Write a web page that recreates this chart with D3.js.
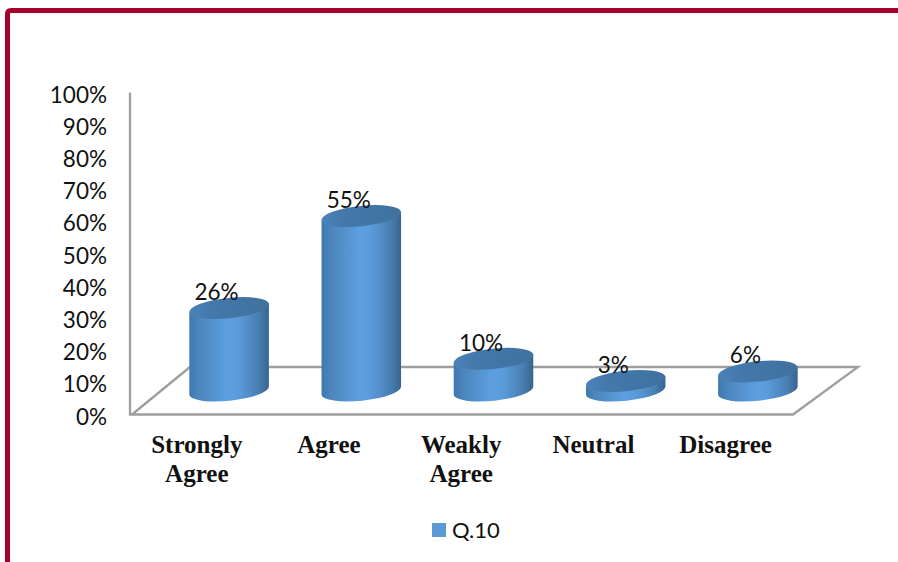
<!DOCTYPE html>
<html>
<head>
<meta charset="utf-8">
<script src="https://cdn.jsdelivr.net/npm/d3@7"></script>
<style>html,body{margin:0;padding:0;background:#fff}svg{display:block}</style>
</head>
<body>
<svg id="c" width="898" height="562"></svg>
<script>
const categories = [["Strongly","Agree"],["Agree"],["Weakly","Agree"],["Neutral"],["Disagree"]];
const values = [26,55,10,3,6];
const yTicks = [0,10,20,30,40,50,60,70,80,90,100];
const seriesName = "Q.10";

const svg = d3.select("#c");
const W = 898, H = 562;
const y = d3.scaleLinear().domain([0,100]).range([414.5,92.5]);
const x = d3.scaleBand().domain(d3.range(values.length)).range([130,791]);
const depthX = 33, depthY = -24;         // cylinder position in the 3D floor
const rx = 40, ry = 10.2, tilt = -6;     // ellipse of the cylinder ends
const t = tilt*Math.PI/180, tx = rx*Math.cos(t), ty = rx*Math.sin(t);

const defs = svg.append("defs");
const sideGrad = defs.append("linearGradient").attr("id","side");
[[0,"#3f78b0"],[.12,"#4c86bd"],[.48,"#5c9fe0"],[.62,"#5a9bdb"],[.86,"#4a80b4"],[1,"#37648f"]]
  .forEach(s=>sideGrad.append("stop").attr("offset",s[0]).attr("stop-color",s[1]));
const topGrad = defs.append("linearGradient").attr("id","topG");
[[0,"#4c84ba"],[.25,"#4478ab"],[1,"#3f729f"]]
  .forEach(s=>topGrad.append("stop").attr("offset",s[0]).attr("stop-color",s[1]));
defs.append("filter").attr("id","soft").append("feGaussianBlur").attr("stdDeviation",.55);

// frame
svg.append("path").attr("fill","none").attr("stroke","#a5002b").attr("stroke-width",5)
  .attr("d",`M7.5 ${H} V14 Q7.5 10.5 11 10.5 H${W}`);

// axes and floor
const grey = "#9e9e9e";
const g = svg.append("g").attr("filter","url(#soft)");
g.append("path").attr("fill","none").attr("stroke",grey).attr("stroke-width",2.3)
  .attr("d",`M130 ${y(100)} V${y(0)} H793 L858 367 H190 L132 ${y(0)}`);

// cylinders
const cyl = g.selectAll("g.cyl").data(values).join("g").attr("class","cyl");
const cx = (d,i)=>x(i)+x.bandwidth()/2+depthX;
const base = y(0)+depthY;
const h = d=>(y(0)-y(d))*0.985;
cyl.append("path").attr("fill","url(#side)")
  .attr("d",(d,i)=>{
    const c=cx(d,i), b=base, tp=base-h(d);
    return `M${c-tx} ${tp-ty} L${c-tx} ${b-ty} A${rx} ${ry} ${tilt} 0 0 ${c+tx} ${b+ty} L${c+tx} ${tp+ty} Z`;
  });
cyl.append("ellipse").attr("fill","url(#topG)")
  .attr("cx",cx).attr("cy",d=>base-h(d)).attr("rx",rx).attr("ry",ry)
  .attr("transform",(d,i)=>`rotate(${tilt} ${cx(d,i)} ${base-h(d)})`);

// data labels
const sans = "Lato, 'Open Sans', sans-serif";
svg.selectAll("text.v").data(values).join("text").attr("class","v")
  .attr("x",(d,i)=>cx(d,i)-12.5).attr("y",d=>base-h(d)-8)
  .attr("text-anchor","middle").attr("font-family",sans).attr("font-size",22.5).attr("fill","#111")
  .text(d=>d+"%");

// y tick labels
svg.selectAll("text.t").data(yTicks).join("text").attr("class","t")
  .attr("x",107).attr("y",d=>y(d)+10)
  .attr("text-anchor","end").attr("font-family",sans).attr("font-size",22.5).attr("fill","#111")
  .text(d=>d+"%");

// category labels
const lab = svg.selectAll("text.c").data(categories).join("text").attr("class","c")
  .attr("text-anchor","middle").attr("font-family","'Liberation Serif', serif")
  .attr("font-weight","bold").attr("font-size",25).attr("fill","#111");
lab.selectAll("tspan").data((d,i)=>d.map((s,j)=>({s,j,i}))).join("tspan")
  .attr("x",d=>x(d.i)+x.bandwidth()/2+0.7).attr("y",d=>453+d.j*29).text(d=>d.s);

// legend
svg.append("rect").attr("x",432).attr("y",523).attr("width",14).attr("height",14).attr("fill","#5b9bd5");
svg.append("text").attr("x",452).attr("y",538).attr("font-family",sans).attr("font-size",22).attr("fill","#111").text(seriesName);
</script>
</body>
</html>
